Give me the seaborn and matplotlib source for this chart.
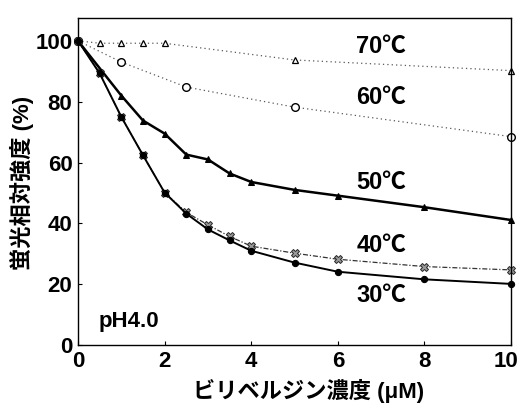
import matplotlib
matplotlib.use("Agg")
import matplotlib.pyplot as plt
import matplotlib.transforms as mtrans
import seaborn as sns

# datos
conc_70 = [0, 0.5, 1, 1.5, 2, 5, 10]
int_70 = [100, 99.2, 99.2, 99.2, 99.2, 93.7, 90.2]

conc_60 = [0, 1, 2.5, 5, 10]
int_60 = [100, 93, 84.8, 78.2, 68.5]

conc_50 = [0, 1, 1.5, 2, 2.5, 3, 3.5, 4, 5, 6, 8, 10]
int_50 = [100, 82, 73.8, 69.5, 62.6, 61, 56.4, 53.6, 51, 49.1, 45.3, 41.1]

conc_40 = [0, 0.5, 1, 1.5, 2, 2.5, 3, 3.5, 4, 5, 6, 8, 10]
int_40 = [100, 89.3, 75, 62.4, 50.1, 43.6, 39.5, 35.7, 32.5, 30.2, 28.2, 25.8, 24.7]

conc_30 = [0, 0.5, 1, 1.5, 2, 2.5, 3, 3.5, 4, 5, 6, 8, 10]
int_30 = [100, 89.3, 75, 62.4, 50.1, 43.2, 38, 34.4, 31, 27.1, 24.1, 21.6, 20.1]

etiquetas = ["70℃", "60℃", "50℃", "40℃", "30℃"]
pos_y = [98, 81.3, 53.4, 32.8, 16.4]

sns.set_style("ticks")
plt.rcParams['font.family'] = ['Liberation Sans', 'Noto Sans CJK JP', 'DejaVu Sans']
plt.rcParams['font.weight'] = 'bold'
plt.rcParams['text.color'] = 'black'
plt.rcParams['axes.labelcolor'] = 'black'
plt.rcParams['xtick.color'] = 'black'
plt.rcParams['ytick.color'] = 'black'

fig = plt.figure(figsize=(5.21, 4.05), dpi=100)
ax = fig.add_axes([0.1497, 0.148, 0.8313, 0.8076])

sns.lineplot(x=conc_70, y=int_70, ax=ax, color="0.35", lw=0.9, linestyle=(0, (1, 2.5)),
             marker="^", markersize=4.5, markerfacecolor="white", markeredgecolor="black",
             markeredgewidth=0.9, clip_on=False)
sns.lineplot(x=conc_60, y=int_60, ax=ax, color="0.35", lw=0.9, linestyle=(0, (1, 2.5)),
             marker="o", markersize=5.5, markerfacecolor="white", markeredgecolor="black",
             markeredgewidth=1.0, clip_on=False)
sns.lineplot(x=conc_50, y=int_50, ax=ax, color="black", lw=1.8,
             marker="^", markersize=4.5, markerfacecolor="black", markeredgecolor="black",
             clip_on=False)
sns.lineplot(x=conc_40, y=int_40, ax=ax, color="0.2", lw=0.9, linestyle=(0, (4, 1.5, 1, 1.5)),
             marker="X", markersize=5.5, markerfacecolor="0.6", markeredgecolor="0.15",
             markeredgewidth=0.7, clip_on=False)
sns.lineplot(x=conc_30, y=int_30, ax=ax, color="black", lw=1.4,
             marker="o", markersize=4.5, markerfacecolor="black", markeredgecolor="black",
             clip_on=False)

for txt, yy in zip(etiquetas, pos_y):
    ax.text(7.0, yy, txt, fontsize=17, fontweight='bold', ha='center', va='center')
ax.text(0.47, 7.9, "pH4.0", fontsize=16, fontweight='bold', ha='left', va='center')

ax.set_xlim(0, 10)
ax.set_ylim(0, 107.5)
ax.set_xticks([0, 2, 4, 6, 8, 10])
ax.set_yticks([0, 20, 40, 60, 80, 100])
ax.tick_params(direction='in', length=3, width=0.8, labelsize=16, pad=4)
for lab in ax.get_xticklabels() + ax.get_yticklabels():
    lab.set_fontweight('bold')
# el "10" del eje x va un poco a la izquierda
ultimo = ax.get_xticklabels()[-1]
ultimo.set_transform(ultimo.get_transform() + mtrans.ScaledTranslation(-5 / 100, 0, fig.dpi_scale_trans))
for sp in ax.spines.values():
    sp.set_visible(True)
    sp.set_linewidth(1.0)
    sp.set_color('black')

ax.set_xlabel("ビリベルジン濃度 (μM)", fontsize=16, fontweight='bold')
ax.set_ylabel("蛍光相対強度 (%)", fontsize=16, fontweight='bold')
ax.xaxis.set_label_coords(0.533, -0.14)
ax.yaxis.set_label_coords(-0.129, 0.495)
ax.xaxis.label.set_va('center')
ax.yaxis.label.set_va('center')

fig.savefig("out.png", dpi=100)
